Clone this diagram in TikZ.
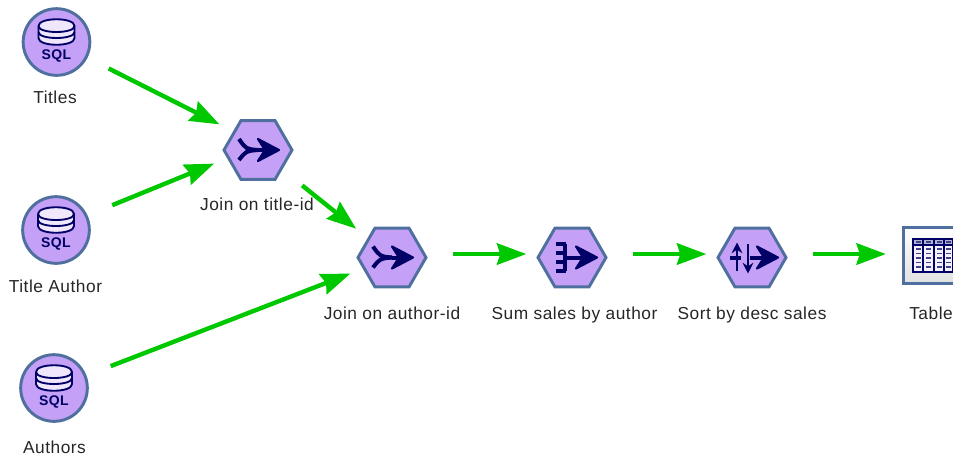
\documentclass[tikz,border=0pt]{standalone}
\usepackage{fontspec}
\setmainfont[LetterSpace=3]{Liberation Sans}
\usetikzlibrary{arrows.meta,shapes.geometric}
\definecolor{FlowGreen}{HTML}{00C800}
\definecolor{IconFill}{HTML}{C4A0F6}
\definecolor{IconEdge}{HTML}{4F6F9F}
\definecolor{GlyphBlue}{HTML}{000066}
\tikzset{
	flow/.style={-{Stealth[length=22pt,width=16pt,inset=2.5pt]},FlowGreen,line width=3.3pt},
	source/.style={circle,draw=IconEdge,fill=IconFill,line width=2.2pt,minimum size=50pt,inner sep=0},
	process/.style={regular polygon,regular polygon sides=6,draw=IconEdge,fill=IconFill,line width=2.2pt,minimum size=51pt,inner sep=0},
	caption/.style={font=\fontsize{13}{15}\selectfont,text=black!85,inner sep=0,anchor=base},
	glyph/.style={GlyphBlue,line width=3pt},
	pics/dbglyph/.style={code={
		\draw[GlyphBlue,fill=IconFill!25,line width=1.4pt] (-18,-16) -- (-18,-4) .. controls (-18,5) and (18,5) .. (18,-4) -- (18,-16) .. controls (18,-25) and (-18,-25) .. (-18,-16);
		\foreach \y in {-16,-10} {
			\draw[GlyphBlue,line width=1.4pt] (-18,\y) .. controls (-18,\y+8) and (18,\y+8) .. (18,\y);
		}
		\node[GlyphBlue,inner sep=0,font=\bfseries\fontsize{10.5}{12}\selectfont] at (0,14) {SQL};
	}},
	pics/bigarrow/.style={code={
		\filldraw[GlyphBlue,line width=1.6pt,line join=round] (21,0) -- (0,-11) -- (7,0) -- (0,11) -- cycle;
		\draw[glyph] (0,0) -- (12,0);
	}}
}

\begin{document}
\begin{tikzpicture}[x=0.75pt,y=-0.75pt]
	% Frame
	\clip (0,0) rectangle (953,455);
	
	% Sources
	\node[source] (titles) at (56.5,42) {};
	\node[source] (titleauthor) at (56,230) {};
	\node[source] (authors) at (54,388) {};
	\pic at (titles) {dbglyph};
	\pic at (titleauthor) {dbglyph};
	\pic at (authors) {dbglyph};
	
	% Processes
	\node[process] (join1) at (258,150) {};
	\node[process] (join2) at (392,257.5) {};
	\node[process] (sumsales) at (572,257.5) {};
	\node[process] (sortsales) at (752,257.5) {};
	
	% Join glyphs
	\foreach \n in {join1,join2} {
		\pic at (\n) {bigarrow};
		\draw[glyph] ([shift={(-19,-11)}]\n.center) .. controls ([shift={(-12,-1)}]\n.center) .. ([shift={(0,0)}]\n.center);
		\draw[glyph] ([shift={(-19,10)}]\n.center) .. controls ([shift={(-12,1)}]\n.center) .. ([shift={(0,0)}]\n.center);
	}
	
	% Sum glyph
	\pic at ([xshift=3pt]sumsales) {bigarrow};
	\begin{scope}[shift={(572,257.5)}]
		\draw[glyph] (-7,-14) -- (-7,13) (-7,0) -- (14,0);
		\foreach \y in {-14,-5,4,13} {
			\draw[glyph] (-16,\y) -- (-6,\y);
		}
	\end{scope}
	
	% Sort glyph
	\pic at ([xshift=3.75pt]sortsales) {bigarrow};
	\begin{scope}[shift={(752,257.5)}]
		\draw[glyph,line width=1.8pt,-{Stealth[length=8pt,width=8pt]}] (-15,13) -- (-15,-15);
		\draw[glyph,line width=1.8pt,-{Stealth[length=8pt,width=8pt]}] (-4,-14) -- (-4,16);
		\draw[glyph] (-22,0) -- (-11,0) (-2,0) -- (12,0);
	\end{scope}
	
	% Table
	\node[rectangle,draw=IconEdge,line width=2.2pt,minimum width=52pt,minimum height=42.5pt,inner sep=0,
		top color=white,bottom color=black!12] (table) at (938,255.5) {};
	\begin{scope}[shift={(913,239)}]
		\fill[IconFill!15] (0,0) rectangle (56,33);
		\fill[GlyphBlue!30] (0,0) rectangle (56,6);
		\draw[GlyphBlue,line width=0.8pt] (0,0) rectangle (56,33) (0,6) -- (56,6);
		\foreach \x in {10,21,31,40,51} {
			\draw[GlyphBlue,line width=0.8pt] (\x,0) -- (\x,33);
		}
		\foreach \y in {3,10,14.5,19,23.5,28} {
			\foreach \x in {3,13,24,33,43} {
				\draw[GlyphBlue!75,line width=0.9pt] (\x,\y) -- ++(5,0);
			}
		}
	\end{scope}
	
	% Arrows
	\draw[flow,shorten <=17.8pt,shorten >=11.5pt] (titles.-27) -- (join1.143.7);
	\draw[flow,shorten <=20pt,shorten >=10.5pt] (titleauthor.25) -- (join1.195.5);
	\draw[flow,shorten <=19pt,shorten >=11pt] (join1) -- (join2);
	\draw[flow,shorten <=19.5pt,shorten >=10pt] (authors) -- (join2);
	\draw[flow,shorten <=18.75pt,shorten >=7.5pt] ([yshift=2.6pt]join2.east) -- ([yshift=2.6pt]sumsales.west);
	\draw[flow,shorten <=18.75pt,shorten >=7.5pt] ([yshift=2.6pt]sumsales.east) -- ([yshift=2.6pt]sortsales.west);
	\draw[flow,shorten <=18.75pt,shorten >=12pt] ([yshift=2.6pt]sortsales.east) -- ([yshift=1.1pt]table.west);
	
	% Nodes
	\node[caption] (titleslabel) at (55,103) {Titles};
	\node[caption] (titleauthorlabel) at (55.5,292) {Title Author};
	\node[caption] (authorslabel) at (54.5,453) {Authors};
	\node[caption] (join1label) at (257,210) {Join on title-id};
	\node[caption] (join2label) at (392,319) {Join on author-id};
	\node[caption] (sumsaleslabel) at (574.5,319) {Sum sales by author};
	\node[caption] (sortsaleslabel) at (752,319) {Sort by desc sales};
	\node[caption,anchor=base west] (tablelabel) at (909,319) {Table};
\end{tikzpicture}
\end{document}
